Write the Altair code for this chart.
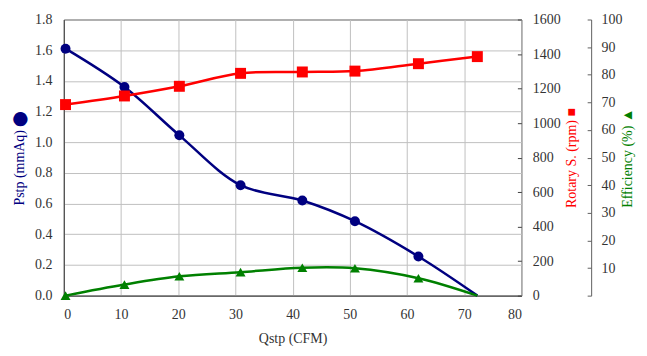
import altair as alt
import pandas as pd

# ---- data ----
q_cfm = [0.3, 10.6, 20.2, 30.9, 41.7, 50.9, 62.0, 72.3]
pstp_mmaq = [1.61, 1.36, 1.045, 0.72, 0.62, 0.485, 0.255, 0.0]
rotary_rpm = [1107, 1157, 1213, 1288, 1296, 1301, 1344, 1385]
efficiency_pct = [0.0, 4.0, 7.0, 8.5, 10.1, 9.9, 6.3, 0.0]

x_ticks = list(range(0, 81, 10))
pstp_ticks = [round(i * 0.2, 1) for i in range(10)]
rpm_ticks = list(range(0, 1601, 200))
eff_ticks = list(range(0, 101, 10))

df = pd.DataFrame({"Q": q_cfm, "Pstp": pstp_mmaq, "RPM": rotary_rpm, "Eff": efficiency_pct})
df_mark = df.iloc[:-1]  # last (zero) points have no marker for Pstp / Efficiency

FONT = "Liberation Serif"
NAVY = "#000080"
RED = "#FF0000"
GREEN = "#008000"
AXC = "#404040"
GRID = "#C0C0C0"
LBL = "#333333"

W, H = 459, 277

common = dict(labelFont=FONT, labelFontSize=14, labelColor=LBL,
              titleFont=FONT, titleFontSize=14, titleFontWeight="normal")

x_enc = alt.X(
    "Q:Q",
    scale=alt.Scale(domain=[0, 80], nice=False, zero=False),
    axis=alt.Axis(values=x_ticks, title="Qstp (CFM)", grid=True, gridColor=GRID,
                  ticks=False, labelPadding=12, titlePadding=10,
                  domainColor=AXC, titleColor=LBL, **common),
)

# Pstp layer
y_p = alt.Y(
    "Pstp:Q",
    scale=alt.Scale(domain=[0, 1.8], nice=False),
    axis=alt.Axis(orient="left", values=pstp_ticks, format=".1f", grid=True, gridColor=GRID,
                  ticks=False, labelPadding=12, domainColor=AXC,
                  title="Pstp (mmAq) ⬤", titleColor=NAVY, titlePadding=8, **common),
)
p_line = alt.Chart(df).mark_line(color=NAVY, strokeWidth=2.5, interpolate="catmull-rom").encode(x=x_enc, y=y_p)
p_pts = alt.Chart(df_mark).mark_circle(color=NAVY, size=100, opacity=1).encode(x=x_enc, y=y_p)
layer_p = alt.layer(p_line, p_pts)

# Rotary speed layer
y_r = alt.Y(
    "RPM:Q",
    scale=alt.Scale(domain=[0, 1600], nice=False),
    axis=alt.Axis(orient="right", values=rpm_ticks, format="d", grid=False, offset=-4, domain=False,
                  ticks=True, tickSize=4, tickColor=AXC, labelPadding=11,
                  title="Rotary S. (rpm) ■", titleColor=RED, titleAngle=270, titlePadding=18, **common),
)
r_line = alt.Chart(df).mark_line(color=RED, strokeWidth=2.5, interpolate="catmull-rom").encode(x=x_enc, y=y_r)
r_pts = alt.Chart(df).mark_square(color=RED, size=121, opacity=1).encode(x=x_enc, y=y_r)
layer_r = alt.layer(r_line, r_pts)

# Efficiency layer
y_e = alt.Y(
    "Eff:Q",
    scale=alt.Scale(domain=[0, 100], nice=False),
    axis=alt.Axis(orient="right", values=eff_ticks, grid=False, offset=66, domain=False,
                  ticks=True, tickSize=4, tickColor="#606060", labelPadding=10,
                  labelExpr="datum.value == 0 ? '' : datum.label",
                  title="Efficiency (%) ▲", titleColor=GREEN, titleAngle=270, titlePadding=12, **common),
)
e_line = alt.Chart(df).mark_line(color=GREEN, strokeWidth=2.5, interpolate="catmull-rom").encode(x=x_enc, y=y_e)
e_pts = alt.Chart(df_mark).mark_point(shape="triangle-up", filled=True, color=GREEN, size=100, opacity=1).encode(x=x_enc, y=y_e)
layer_e = alt.layer(e_line, e_pts)

# axis line for efficiency scale
y_e2 = alt.Y(
    "Eff:Q",
    scale=alt.Scale(domain=[0, 100], nice=False),
    axis=alt.Axis(orient="right", offset=70, labels=False, ticks=False, grid=False,
                  domain=True, domainColor="#606060", title=None),
)
e_axis = alt.Chart(df).mark_point(opacity=0).encode(x=x_enc, y=y_e2)

chart = (
    alt.layer(layer_p, layer_r, layer_e, e_axis)
    .resolve_scale(y="independent")
    .properties(width=W, height=H, padding={"left": 4, "top": 4, "right": 5, "bottom": 5})
    .configure_view(stroke=AXC, strokeWidth=1)
    .configure_axis(gridWidth=1)
)

chart.save("out.html", embed_options={"renderer": "svg", "actions": False})
